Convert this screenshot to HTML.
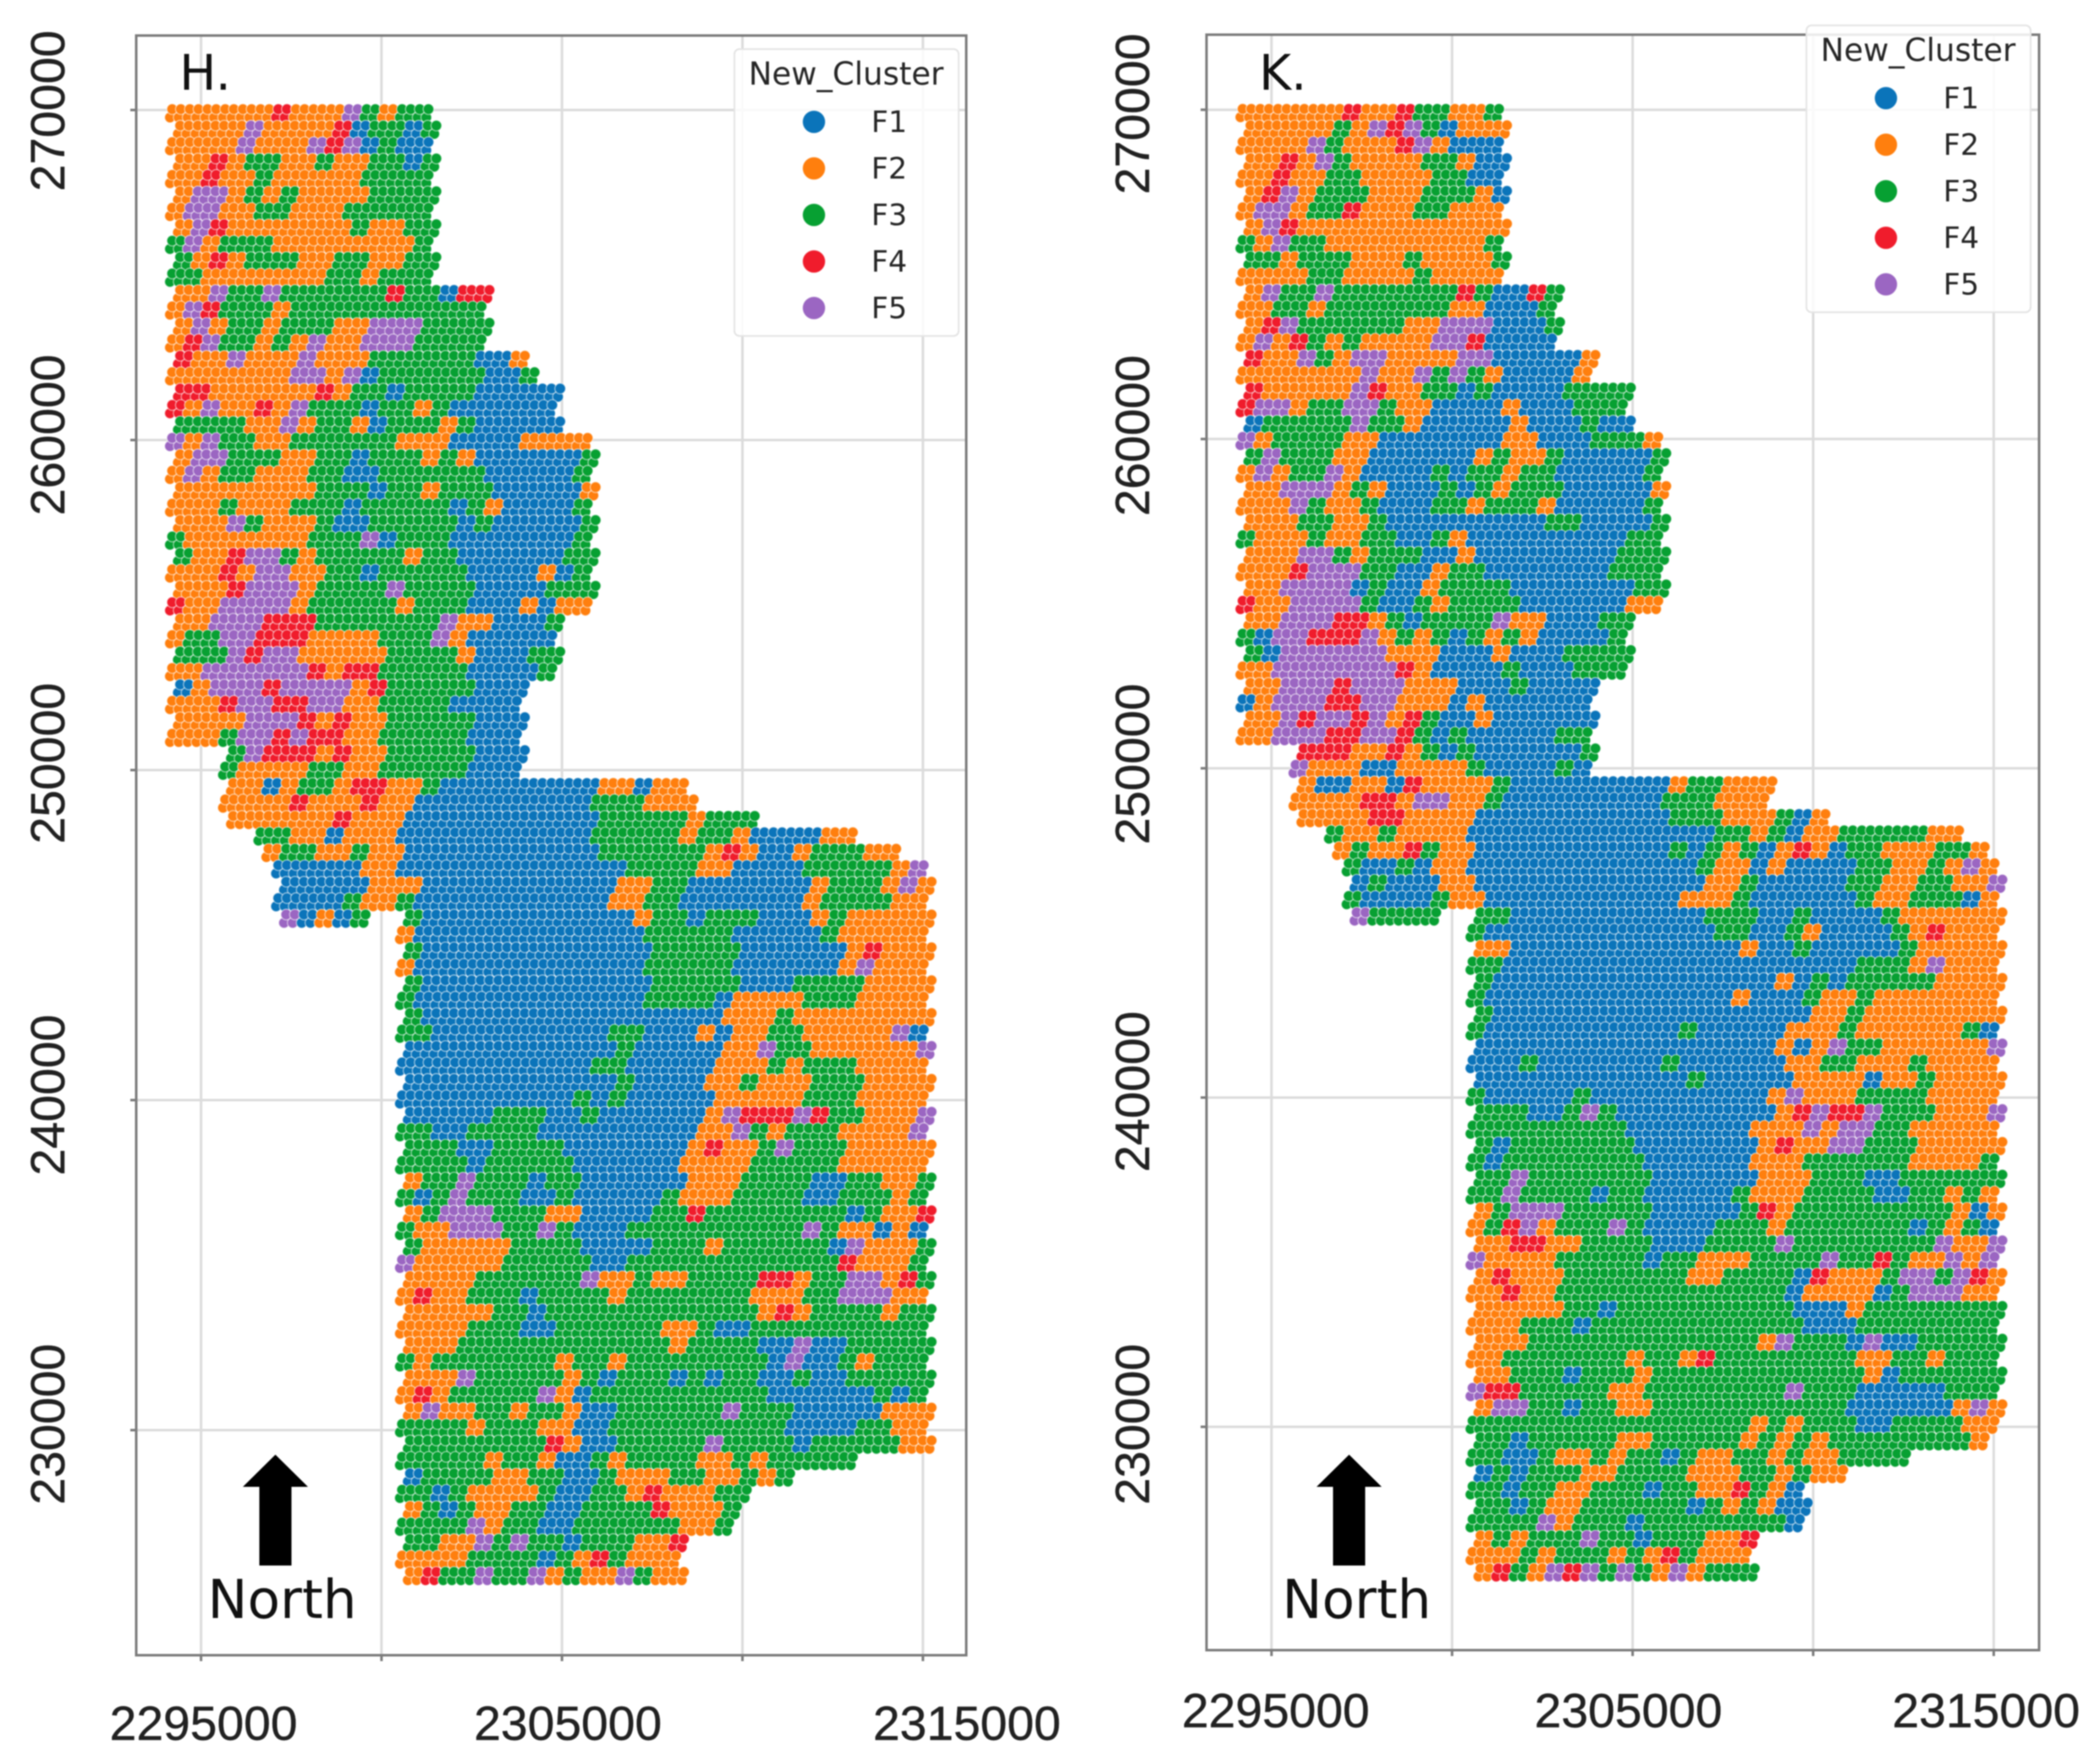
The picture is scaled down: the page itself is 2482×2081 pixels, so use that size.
<!DOCTYPE html>
<html lang="en">
<head>
<meta charset="utf-8">
<title>New_Cluster maps H and K</title>
<style>
html,body{margin:0;padding:0;background:#fff;}
svg{display:block;filter:blur(0.7px);}
</style>
</head>
<body>
<svg id="chart" xmlns="http://www.w3.org/2000/svg" width="2482" height="2081" viewBox="0 0 2482 2081">
<rect x="0" y="0" width="2482" height="2081" fill="#ffffff"/>
</svg>
<script>
const xTickValues = [2295000, 2300000, 2305000, 2310000, 2315000];
const yTickValues = [270000, 260000, 250000, 240000, 230000];
const xTickLabels = ['2295000', '', '2305000', '', '2315000'];
const yTickLabels = ['270000', '260000', '250000', '240000', '230000'];
const clusterNames = ['F1', 'F2', 'F3', 'F4', 'F5'];
const clusterCodes = ['B', 'O', 'G', 'R', 'P'];
const clusterColors = ['#0b74ba', '#ff7f0e', '#07a032', '#f01c2c', '#9b66c2'];
const gridOriginX = 2294400;
const gridOriginY = 269900;
const gridStepX = 490;
const gridStepY = 498;

const clusterRowsH = [
"OOOOO OROOO PGOGG",
"OOOOP OOOOR BGGBG",
"OOOOP OOOPR PBGBB",
"OOROG GOOGO OGGBG",
"OOROO GOOOO OGGGG",
"OPPOG OGOOO OGGGG",
"OPPOO GGOOO GGGGG",
"OPROO OOOOO GOOGG",
"GPOGG GOOOO OOOOG",
"GOROG GGOOG GOOGG",
"GGOOO OOOOG GOGGG",
"OOPGG PGGGG GGRGG BRR",
"OPRGG GOGGG GGGGG GGG",
"OPOGG OGGGO OPPPG GGG",
"ORPGG OGOPO OPPPG GGG",
"ROOPO OOPOO OGGGG GGBBO",
"OOOOO OOPPO PBGGG GGGBB G",
"RROOO OOORO GGBGG GGBBB BB",
"ROPOO ROPGG GBGGO GBBBB BB",
"GGGGO OPOGG OBGGG OGBBB BB",
"POPGG OOGGG GGGOO OBBBB OOOO",
"OPPGG GOOGG BGGGO GOBBB BBBG",
"OPOGG OOOGG BBGGG GGGBB BBBG",
"OOOOO OOOGG GBGGO GGGBB BBBO",
"OOOGO OOGGG BGGGG GBGOB BBBG",
"OOOPG OOOGB BGGGG GBGBB BBBG",
"GOOOO OOOGG GPBGG GBBBB BBBG",
"GOORP PGOGG GGGOG GBBBB BBGG",
"OOORO PPOOG GBGGG GGBBB BOBG",
"OOORP PPOGG GGPGG GGBBB BGGG",
"ROOPP PPOGG GGGOG GGBBB OBOO",
"OOPPP RRRGG GGGGG POOBB BG",
"OGGPP RRROO OOGGG POBBB BB",
"GGGPR PPOOO OOGGG GOBBB GG",
"OOPPP PPPRO RRGGG GGBBB BG",
"BOPPP RPPPP ORGGG GGBBB",
"OOORP PRRPP OOGGG GBBBB",
"OOOOP PPROR OOGGG GGBBB",
"OOOGP PRPRR OOGGG GGBBB",
"...GP RRROR OOGGG GGBBB",
"...GO OOOGG OOGGG GGBBB",
"...OO BOGGO RROOG BBBBB BBBBO OBOO",
"...OO OOROO OROOB BBBBB BBBBG GGOOO",
"...OO OOOOR OOOBB BBBBB BBBBG GGGGO GGG",
"..... GGOOB OOOBB BBBBB BBBBG GGGGO GGOBB BBOO",
"..... OGGOO GOOBB BBBBB BBBBG GGGGG OROBB OGGGO O",
"..... .BBBB BOOBB BBBBB BBBBB BGGGG OOBBB BGGGG GOP",
"..... .BBBB BOOOB BBBBB BBBBB OOGGB BBBBB BOGGG OPO",
"..... .BBBB GOOGB BBBBB BBBBB OOGGB BBBBB BOGGG GOO",
"..... .PBOB G..GB BBBBB BBBBB BOGGB GGGBB BOGOO OOO",
"..... ..... ...OB BBBBB BBBBB BBGGG GGBBB BBGOO OOO",
"..... ..... ...GB BBBBB BBBBB BBGGG GGBBB BBBOR OOO",
"..... ..... ...OB BBBBB BBBBB BBGGG GGBBB BBBOP OOO",
"..... ..... ...GB BBBBB BBBBB BBGGG GGBBB GGGGO OOO",
"..... ..... ...GB BBBBB BBBBB BBGGG GBOOO OGGGO OOO",
"..... ..... ...GB BBBBB BBBBB BBBBB BOOOG OOOOO OOO",
"..... ..... ...GG BBBBB BBBBB GGBBB OBOOG GOOOO OPB",
"..... ..... ...BB BBBBB BBBBB GBBBB BOOPG GOOOO OOP",
"..... ..... ...BB BBBBB BBBBG GBBBB BOOOG OGGGO OOO",
"..... ..... ...BB BBBBB BBBBB GBBBB OOGOO OGGGO OOO",
"..... ..... ...BB BBBBB BBBGB GBBBB BOOOO OGGGO OOO",
"..... ..... ...BB BBBGG GBBGB BBBBB OPRRR PRGGO OOP",
"..... ..... ...GG BBGGG GBBBB BBBBB OOPGO GGGOO OOP",
"..... ..... ...GG GBBGG GGBBB BBBBO ROOGP GGGOO OOO",
"..... ..... ...GG GGBGG GGGBB BBBBO OOOGG GGGOO OOO",
"..... ..... ...OG GPGGG BGGBB BBBBO OOGGG GBBGG OOG",
"..... ..... ...GB GPGGG BBGBB BBBGO OOGGG GBBGG GOG",
"..... ..... ...OG PPPGG GOOBB BBGGR GGGGG GGGBG OOR",
"..... ..... ...GO OPPPG GPGBB BGGGG GGGGG GPGOO BOB",
"..... ..... ...GO OOOOG GGGBB BBGGG OGGGG GGBPO OOG",
"..... ..... ...PO OOOOG GGGGB BGGGG GGGGG GGGRO OOG",
"..... ..... ...OO OOGGG GGGPO OGOOG GGGRR OGGPP ORG",
"..... ..... ...OR OOGGG BGGGG OGGGG GGGOO OGGPP POO",
"..... ..... ...OO OOOGG BGGGG GGGGG GGGOR OGGGG OGG",
"..... ..... ...OO OOGGG BBGGG GGGOO GBBGG GGGGG GGG",
"..... ..... ...OO OGGGG GGGGG GGGOG GGGBB PBBGG GGG",
"..... ..... ...GO GGGGG GGOGG OGGGG GGGGB PBBGO GGG",
"..... ..... ...OO OPGGG GGOGB GGGBG BGGBB GBBGG GGG",
"..... ..... ...OR OGGGG GPOBG GGGGG GGGGB BBBBB GBG",
"..... ..... ...OP OOGGO GGOBB GGGGG GPGGG BBBBB OOO",
"..... ..... ...GG GGOGG GOOBB GGGGG GGGGG BBBBG GOO",
"..... ..... ...GG GGGGG GROBB GGGGG PGGGG BGGGG GOO",
"..... ..... ...GG GGGOG GOBBG OGGGG OOGOG GGGG",
"..... ..... ...BG GGGOO GGBBG OOOGG OOGOG",
"..... ..... ...GG BGOOO OGBBG GOROO OGG",
"..... ..... ...OG BGOOG GBBGG GGROO OG",
"..... ..... ...GG GGPOG GBBGG GGGGO OG",
"..... ..... ...GG OOPGP GGBGG GOOR",
"..... ..... ...OO OOGGG GBGOR GOOO",
"..... ..... ...OR GGPGG POGOO PGOO"
];

const clusterRowsK = [
"OOOOO OROOR GGOOG",
"OOOOO GOPRP GBOOO",
"OOOOP GOOOR POBBB",
"OOROP GOOOO GGOBB",
"OOROO GGOOO OGGBB",
"ORPOG GGOOO GGGOB",
"OPPOG GROOO GGOOO",
"OPROO OOOOO OOOOO",
"GOPGG OOOOO OOOOG",
"GGOGG GOOOG OOOOG",
"OOOOG GOOOO GOOOO",
"OPGGP GGGGG GGRGB BRG",
"OOGGO GGGGG GGOOB BBG",
"ORPGG GGGGO OPPPB BBG",
"OPORG OGOOO OPPRB BBB",
"ROOPG OPPOO OOPPB BBBBO",
"OOOOO OOPOO PGPGO BBBBO",
"ROOOO OPROO GGBGB BBBGG GG",
"RPPOG GPPGO OBBBB OBBBG GG",
"BGGGG GPGGO BBBBB OBBBG BB",
"POGGG GOOBB BBBBB OOBBB GGGO",
"GPGGG OOBBB BBBOG OOGBB BBBG",
"OPOGG POBBB BGBGG OGGBB BBBG",
"OOPPP OGOBB BGBGO GGGBB BBBO",
"OOOPG OOGBB BGGOG GGOBB BBBG",
"OOOGG OOGBB BBBBB BBGGB BBBG",
"GOOOG OOGGB BGOBB BBBBB BBGG",
"OOOPP GOGGG BBOBB BBBBB BGGG",
"OOORP PPGGB BOGGB BBBBB BGGG",
"OOPPP PBGBB OGGGG BBBBB BBGG",
"ROOPP PPGBB GOGGG GBBBB BBOO",
"OOPPP RROGB GGGGP OOBBB GG",
"GBPPR RRPOG OGBGO GOBBB BG",
"GBPPP PPPOO OBBBO BBBGG GG",
"OOPPP PPPPR OBBBB GBBBG GG",
"OOPPP RPPPO OOBBB GBBBB",
"BOPPP RRPPO OOBOB BBBBB",
"OOPRP PRPOR GBBOB BBBBB",
"OOPPP RRPPR GBGBB BBBGG",
"...RR ROORO GBGBB BBBBG",
"...PO OOBBO OOOGB BBBGB",
"...OB BOOBR OOOOG BBBBB BBBBO GGOOO",
"...OO OORRO PPOOG BBBBB BBBBG GGOOO",
"...OO OORRO OOOBB BBBBB BBBBG GGOOO GBO",
"..... GOOGO OOOBB BBBBB BBBBB BBGGO GBOOG GGGGO O",
"..... OGOOR GOOBB BBBBB BBBBG BGOGB OROBG GOOOG GO",
"..... .GBBG BOOBB BBBBB BBBBB BGOOB OBBBB GGOOG OPO",
"..... .BGBB BOOBB BBBBB BBBBB BOOGB BBBBG GOOGG OOP",
"..... .GBBB BGOOB BBBBB BBBBB OOOGB BBBBB GOOGG GBO",
"..... .PGGG G..GG BBBBB BBBBB BGGGB BGBBB BGOOO OOO",
"..... ..... ...GB BBBBB BBBBB BBGGB BGOBB BBGOR OOO",
"..... ..... ...OO BBBBB BBBBB BBBOB BGBBB BBGOO OOO",
"..... ..... ...GG BBBBB BBBBB BBBBB BBBBB GGGOP OOO",
"..... ..... ...GB BBBBB BBBBB BBBBB OBGBG GGGGO OOO",
"..... ..... ...GB BBBBB BBBBB BBBOB BBGOO GOOOO OOO",
"..... ..... ...GB BBBBB BBBBB BBBBB BBOOG OOOOO OOO",
"..... ..... ...GB BBBBB BBBBB GBBBB BOOOG OOOOO OGB",
"..... ..... ...BB BBBBB BBBBB BBBBB OBOPG GOOOO OOP",
"..... ..... ...BB BGBBB BBBBG BBBBB BOOGG OOOGO OOO",
"..... ..... ...BB BBBBB BBBBB GBBBB BOOOO BOOGO OOO",
"..... ..... ...GB BBBBG BBBBB BBBBB OPOOO GGGGO OOO",
"..... ..... ...GG GBBGP GBBBB BBBBB ORPRR PGGGO OOP",
"..... ..... ...GG GGGGG GGBBB BBBBO OOPOP PGGOO OOO",
"..... ..... ...GB GGGGG GGBBB BBBBO ROOPP GGGOO OOO",
"..... ..... ...GB GGGGG GGGBB BBBBO OOGGG GGGOO OOG",
"..... ..... ...GG PGGGG GGGBB BBBBO OOGGG BBGGG GGG",
"..... ..... ...GG PGGGG BGGBB BBBGO OOGGG GBBGG OGO",
"..... ..... ...OG PPPGG GGGBB BBBGR OGGGG GGGGG OBO",
"..... ..... ...OG RPOGG GPGBB BBGGG OGGGG GGGBG OGB",
"..... ..... ...OO RROOG GGGBB BGGGG PGGGG GGGGP OOP",
"..... ..... ...PO OOOGG GGGBG GOOOG GGGPG GRGOO POP",
"..... ..... ...OR OOOGG GGGGG OOGGG GBROO OGPPG PRO",
"..... ..... ...OO ROOGG GGGGG GGGGG GBOOO OBGPP POO",
"..... ..... ...OO OOOGG BGGGG GGGGG GBBBO GGGGG GGG",
"..... ..... ...OO OGGGB GGGGG GGGGG GGBBB GGGGG GGG",
"..... ..... ...OO OGGGG GGGGG GGGGO PGGGB PBBGG GGG",
"..... ..... ...OO GGGGG GGOGG ORGGG GGGGG OOGGO GGG",
"..... ..... ...OO GGGBG GGOGG GGGGG GGGGG OBGGG GGG",
"..... ..... ...PR RGGGG GOOGG GGGGG GPGGG BBBBB GGG",
"..... ..... ...OP PGGBG GOOGG GGGGG GGGGB BBBBB OPO",
"..... ..... ...GG GGGGG GGGGG GGGGO GOGGG BBGGG GOO",
"..... ..... ...GG BGGGG GOOGG GGGOG OGOGG GGGGG GO",
"..... ..... ...GG BBGOO GOGGB GOOGG OGOOG GGG",
"..... ..... ...BG BGGGO OGGGG OOOGG OGOO",
"..... ..... ...GG BGGOO GGGBG GOORG OB",
"..... ..... ...GG BGOOG GGGGG BGOGO BB",
"..... ..... ...GG GGPOG GGBGG GGGGG GB",
"..... ..... ...OG OGGGP GGBGG GOOR",
"..... ..... ...OO OGOGG GOGOR GOOO",
"..... ..... ...OR GOPRP GPGOP OGGG"
];

const SVGNS = 'http://www.w3.org/2000/svg';
const svgRoot = document.getElementById('chart');

function make(tag, parent, attrs, text) {
  const el = document.createElementNS(SVGNS, tag);
  for (const k in attrs) el.setAttribute(k, attrs[k]);
  if (text !== undefined) el.textContent = text;
  parent.appendChild(el);
  return el;
}

function drawPanel(p, rows) {
  const xScale = v => p.x0 + (v - xTickValues[0]) * p.kx;
  const yScale = v => p.y0 + (yTickValues[0] - v) * p.ky;

  const group = make('g', svgRoot, {});
  
  

  // gridlines
  xTickValues.forEach(v => {
    const line = make('line', group, {x1: xScale(v), x2: xScale(v), y1: p.top, y2: p.bottom, stroke: '#dcdcdc', 'stroke-width': 3});
    
    
  });
  yTickValues.forEach(v => {
    const line = make('line', group, {x1: p.left, x2: p.right, y1: yScale(v), y2: yScale(v), stroke: '#dcdcdc', 'stroke-width': 3});
    
    
  });

  // points, one small cluster of dots for every cell of the map rows
  const subOffsets = [[-150, -125], [90, -125], [-90, 125], [150, 125]];
  const rowStagger = [-110, 110];
  const pointLayer = make('g', group, {});
  
  
  rows.forEach((row, r) => {
    const cells = row.replace(/ /g, '');
    for (let c = 0; c < cells.length; c++) {
      const idx = clusterCodes.indexOf(cells[c]);
      if (idx < 0) continue;
      subOffsets.forEach(o => {
        const dot = make('circle', pointLayer, {
          cx: xScale(gridOriginX + c * gridStepX + rowStagger[r % 2] + o[0]).toFixed(1),
          cy: yScale(gridOriginY - r * gridStepY + o[1]).toFixed(1),
          r: 6.3,
          fill: clusterColors[idx],
          stroke: 'rgba(255,255,255,0.6)',
          'stroke-width': 1.2
        });
        
        
      });
    }
  });

  // frame
  const frame = make('rect', group, {x: p.left, y: p.top, width: p.right - p.left, height: p.bottom - p.top, fill: 'none', stroke: '#7c7c7c', 'stroke-width': 3});
  
  

  // ticks and labels
  xTickValues.forEach((v, i) => {
    const tick = make('line', group, {x1: xScale(v), x2: xScale(v), y1: p.bottom, y2: p.bottom + 7, stroke: '#7c7c7c', 'stroke-width': 3});
    
    
    if (xTickLabels[i]) {
      const lab = make('text', group, {x: xScale(v) + p.xShift[i], y: p.xLabelY, 'text-anchor': 'middle', 'font-family': '"Liberation Sans", sans-serif', 'font-size': 57, fill: '#222', stroke: '#222', 'stroke-width': 0.5}, xTickLabels[i]);
      
      
    }
  });
  yTickValues.forEach((v, i) => {
    const tick = make('line', group, {x1: p.left - 7, x2: p.left, y1: yScale(v), y2: yScale(v), stroke: '#7c7c7c', 'stroke-width': 3});
    
    
    const yy = yScale(v) + p.yShift[i];
    const lab = make('text', group, {x: p.yLabelX, y: yy, 'text-anchor': 'middle', transform: 'rotate(-90 ' + p.yLabelX + ' ' + yy + ')', 'font-family': '"Liberation Sans", sans-serif', 'font-size': 57, fill: '#222', stroke: '#222', 'stroke-width': 0.5}, yTickLabels[i]);
    
    
  });

  // panel letter
  const letter = make('text', group, {x: p.letterX, y: 106, 'font-family': '"DejaVu Sans", sans-serif', 'font-size': 58, fill: '#111'}, p.letter);
  
  

  // legend
  const legend = make('g', group, {});
  
  
  const box = make('rect', legend, {x: p.legX, y: p.legY, width: 265, height: 339, rx: 6, fill: 'rgba(255,255,255,0.85)', stroke: '#e4e4e4', 'stroke-width': 2});
  
  
  const legTitle = make('text', legend, {x: p.legX + 132, y: p.legY + 42, 'text-anchor': 'middle', 'font-family': '"DejaVu Sans", sans-serif', 'font-size': 37, fill: '#262626'}, 'New_Cluster');
  
  
  clusterNames.forEach((name, i) => {
    const cy = p.legY + 86 + i * 55;
    const swatch = make('circle', legend, {cx: p.legX + 94, cy: cy, r: 13.5, fill: clusterColors[i], stroke: 'rgba(255,255,255,0.6)', 'stroke-width': 1});
    
    
    const lab = make('text', legend, {x: p.legX + 183, y: cy + 12, 'text-anchor': 'middle', 'font-family': '"DejaVu Sans", sans-serif', 'font-size': 35, fill: '#262626'}, name);
    
    
  });

  // north arrow
  const ax = p.arrowX;
  const arrow = make('polygon', group, {points: [[ax, 1719], [ax + 38.5, 1757], [ax + 19, 1757], [ax + 19, 1850], [ax - 19, 1850], [ax - 19, 1757], [ax - 38.5, 1757]].join(' '), fill: '#000'});
  
  
  const north = make('text', group, {x: ax, y: 1912, dx: p.northDx, 'text-anchor': 'middle', 'font-family': '"DejaVu Sans", sans-serif', 'font-size': 63, fill: '#111'}, 'North');
  
  
}

drawPanel({
  id: 'h', letter: 'H.', letterX: 212,
  x0: 237.6, kx: 0.04266, y0: 130, ky: 0.039,
  left: 161, right: 1142, top: 42, bottom: 1956,
  xLabelY: 2056, xShift: [3, 0, 7, 0, 52],
  yLabelX: 76, yShift: [1, -6, -8, -6, -7],
  legX: 868, legY: 58, arrowX: 325.5, northDx: 8
}, clusterRowsH);

drawPanel({
  id: 'k', letter: 'K.', letterX: 1488,
  x0: 1502.8, kx: 0.04268, y0: 129.7, ky: 0.03891,
  left: 1426, right: 2410, top: 41, bottom: 1950,
  xLabelY: 2041, xShift: [5, 0, -5, 0, -9],
  yLabelX: 1358, yShift: [5, -4, -5, -7, -3],
  legX: 2135, legY: 30, arrowX: 1594.5, northDx: 9
}, clusterRowsK);
</script>
</body>
</html>
